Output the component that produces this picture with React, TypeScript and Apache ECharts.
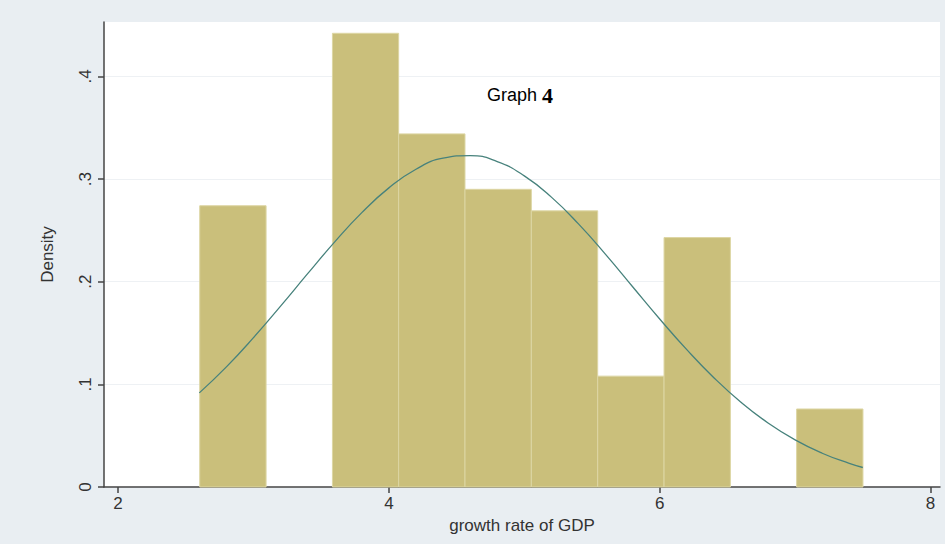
import React, { useEffect, useRef } from "react";
import * as echarts from "echarts";

// Histogram bins: [start, end] of GDP growth rate, and density heights
const binStarts = [2.603, 3.093, 3.583, 4.072, 4.562, 5.052, 5.542, 6.032, 6.522, 7.011];
const binEnds = [3.093, 3.583, 4.072, 4.562, 5.052, 5.542, 6.032, 6.522, 7.011, 7.501];
const densities = [0.274, 0, 0.442, 0.344, 0.290, 0.269, 0.108, 0.243, 0, 0.076];

// Normal density curve
const curveX = [2.6, 2.8, 3.0, 3.2, 3.4, 3.6, 3.8, 4.0, 4.2, 4.4, 4.6, 4.8, 5.0, 5.2, 5.4, 5.6, 5.8, 6.0, 6.2, 6.4, 6.6, 6.8, 7.0, 7.2, 7.4, 7.5];
const curveY = [0.0917, 0.117, 0.1455, 0.1762, 0.2078, 0.2388, 0.2673, 0.2914, 0.3096, 0.3203, 0.3228, 0.317, 0.3031, 0.2824, 0.2563, 0.2266, 0.1951, 0.1637, 0.1338, 0.1065, 0.0826, 0.0624, 0.0459, 0.0329, 0.023, 0.019];

const xTicks = [2, 4, 6, 8];
const yTicks = [0, 0.1, 0.2, 0.3, 0.4];

export default function App() {
  const ref = useRef<HTMLDivElement>(null);
  useEffect(() => {
    if (!ref.current) return;
    const chart = echarts.init(ref.current, null, { renderer: "svg" });
    const bars = binStarts.map((s, i) => [s, binEnds[i], densities[i]]).filter((d) => d[2] > 0);
    const curve = curveX.map((x, i) => [x, curveY[i]]);
    chart.setOption({
      animation: false,
      backgroundColor: "#e9eef2",
      grid: {
        left: 104,
        right: 5,
        top: 22,
        bottom: 57,
        show: true,
        backgroundColor: "#ffffff",
        borderWidth: 0,
      },
      xAxis: {
        type: "value",
        min: 1.896,
        max: 8.07,
        name: "growth rate of GDP",
        nameLocation: "middle",
        nameGap: 26,
        nameTextStyle: { fontFamily: "Liberation Sans", fontSize: 17, color: "#333" },
        axisLine: { show: true, onZero: false, lineStyle: { color: "#444", width: 1.5 } },
        axisTick: { show: true, length: 6, customValues: xTicks, lineStyle: { color: "#444", width: 1.5 } },
        axisLabel: {
          customValues: xTicks,
          fontFamily: "Liberation Sans",
          fontSize: 17,
          color: "#333",
          margin: 8,
        },
        splitLine: { show: false },
      },
      yAxis: {
        type: "value",
        min: 0,
        max: 0.453,
        interval: 0.1,
        name: "Density",
        nameLocation: "middle",
        nameRotate: 90,
        nameGap: 48,
        nameTextStyle: { fontFamily: "Liberation Sans", fontSize: 17, color: "#333" },
        axisLine: { show: true, lineStyle: { color: "#444", width: 1.5 } },
        axisTick: { show: true, length: 6, customValues: yTicks, lineStyle: { color: "#444", width: 1.5 } },
        axisLabel: {
          customValues: yTicks,
          rotate: 90,
          fontFamily: "Liberation Sans",
          fontSize: 17,
          color: "#333",
          margin: 10,
          formatter: (v: number) => (v === 0 ? "0" : v.toFixed(1).replace(/^0/, "")),
        },
        splitLine: { show: true, lineStyle: { color: "#eef1f4", width: 1 } },
      },
      graphic: [
        {
          type: "text",
          left: 487,
          top: 84,
          style: {
            text: "{a|Graph }{b|4}",
            rich: {
              a: { fontFamily: "Liberation Sans", fontSize: 18, color: "#444" },
              b: { fontFamily: "Liberation Serif", fontSize: 22, fontWeight: "bold", color: "#111" },
            },
          },
        },
      ],
      series: [
        {
          type: "custom",
          z: 2,
          data: bars,
          renderItem: (params: any, api: any) => {
            const p0 = api.coord([api.value(0), api.value(2)]);
            const p1 = api.coord([api.value(1), 0]);
            return {
              type: "rect",
              shape: { x: p0[0], y: p0[1], width: p1[0] - p0[0], height: p1[1] - p0[1] },
              style: { fill: "#cabf7b", stroke: "#ddd6a4", lineWidth: 1 },
            };
          },
        },
        {
          type: "line",
          z: 3,
          data: curve,
          smooth: true,
          showSymbol: false,
          lineStyle: { color: "#47827c", width: 1.3 },
        },
      ],
    });
    return () => chart.dispose();
  }, []);
  return <div ref={ref} style={{ position: "fixed", left: 0, top: 0, width: 945, height: 544 }} />;
}
